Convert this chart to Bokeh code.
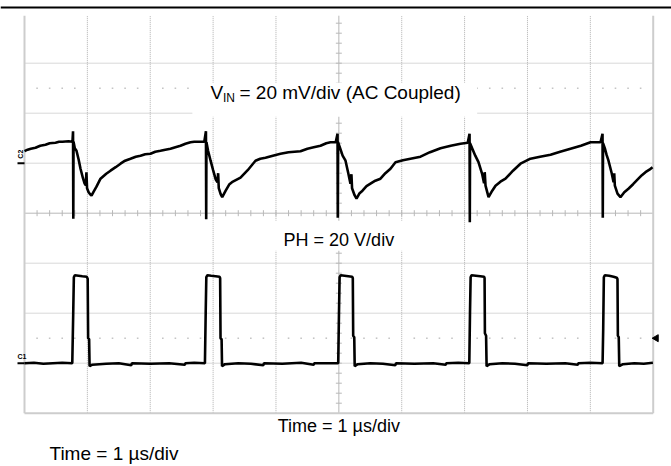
import numpy as np
from bokeh.plotting import figure
from bokeh.models import Range1d
from bokeh.core.properties import value
from bokeh.embed import file_html
from bokeh.resources import INLINE

# ---------------- data (time in us = divisions, amplitude in screen divisions) ----
vin_t = [0.000, 0.05, 0.10, 0.175, 0.25, 0.334, 0.40, 0.493, 0.55, 0.604, 0.70, 0.763,
         0.772, 0.776, 0.780,
         0.80, 0.827, 0.86, 0.891, 0.93, 0.954, 0.975, 0.985, 0.995, 1.02, 1.05, 1.066,
         1.10, 1.145, 1.209, 1.30, 1.368, 1.45, 1.527, 1.60, 1.686, 1.77, 1.845, 1.92,
         2.004, 2.08, 2.163, 2.24, 2.322, 2.40, 2.481, 2.56, 2.640, 2.70, 2.768, 2.86,
         2.886, 2.890, 2.894,
         2.92, 2.96, 3.00, 3.04, 3.07, 3.08, 3.09, 3.12, 3.145, 3.20, 3.26, 3.30, 3.436,
         3.55, 3.674, 3.75, 3.833, 3.95, 4.072, 4.20, 4.39, 4.50, 4.60, 4.708, 4.80,
         4.867, 4.95,
         4.979, 4.983, 4.987,
         5.02, 5.06, 5.106, 5.15, 5.185, 5.20, 5.21, 5.25, 5.281, 5.33, 5.376, 5.44,
         5.503, 5.58, 5.662, 5.74, 5.821, 5.901, 6.02, 6.139, 6.299, 6.45, 6.617, 6.78,
         6.935, 7.05,
         7.079, 7.083, 7.087,
         7.12, 7.17, 7.221, 7.28, 7.31, 7.32, 7.333, 7.381, 7.44, 7.492, 7.57, 7.651,
         7.77, 7.889, 8.048, 8.20, 8.367, 8.52, 8.685, 8.85, 9.003, 9.162,
         9.194, 9.198, 9.202,
         9.23, 9.26, 9.289, 9.34, 9.37, 9.38, 9.39, 9.432, 9.479, 9.54, 9.606, 9.68,
         9.765, 9.82, 9.877, 9.94, 9.989]
vin_div = [1.24, 1.27, 1.29, 1.31, 1.35, 1.37, 1.40, 1.41, 1.43, 1.43, 1.44, 1.43,
           1.64, -0.11, 1.43,
           1.30, 1.25, 1.08, 0.89, 0.70, 0.60, 0.56, 0.82, 0.50, 0.42, 0.37, 0.35,
           0.43, 0.53, 0.69, 0.79, 0.85, 0.92, 0.99, 1.05, 1.09, 1.13, 1.15, 1.18,
           1.19, 1.23, 1.25, 1.27, 1.29, 1.32, 1.35, 1.39, 1.42, 1.43, 1.43, 1.43,
           1.64, -0.12, 1.42,
           1.25, 1.05, 0.86, 0.68, 0.62, 0.80, 0.50, 0.38, 0.32, 0.45, 0.58, 0.62, 0.71,
           0.86, 1.05, 1.09, 1.11, 1.15, 1.19, 1.22, 1.24, 1.29, 1.32, 1.35, 1.40,
           1.42, 1.42,
           1.59, -0.09, 1.42,
           1.30, 1.15, 1.05, 0.80, 0.59, 0.78, 0.50, 0.36, 0.29, 0.40, 0.45, 0.54,
           0.59, 0.65, 0.69, 0.80, 0.89, 1.02, 1.06, 1.09, 1.13, 1.22, 1.30, 1.35,
           1.39, 1.41,
           1.59, -0.18, 1.40,
           1.30, 1.15, 1.02, 0.78, 0.60, 0.82, 0.55, 0.32, 0.45, 0.55, 0.63, 0.69,
           0.85, 0.99, 1.09, 1.13, 1.17, 1.23, 1.29, 1.35, 1.42, 1.42,
           1.59, -0.09, 1.40,
           1.30, 1.16, 1.05, 0.80, 0.62, 0.80, 0.55, 0.39, 0.32, 0.42, 0.49, 0.58,
           0.69, 0.76, 0.82, 0.87, 0.92]

ph_t = [0.0, 0.15, 0.30, 0.45, 0.60, 0.76,
        0.775, 0.785, 0.80, 0.86, 0.92, 0.99, 1.005, 1.012, 1.028, 1.035,
        1.08, 1.30, 1.50, 1.70, 1.71, 2.00, 2.30, 2.55, 2.56, 2.70, 2.87,
        2.882, 2.892, 2.91, 2.97, 3.04, 3.10, 3.112, 3.118, 3.135, 3.142,
        3.19, 3.40, 3.60, 3.80, 3.81, 4.10, 4.40, 4.60, 4.61, 4.80, 4.99,
        5.002, 5.012, 5.03, 5.09, 5.15, 5.21, 5.222, 5.228, 5.245, 5.252,
        5.30, 5.50, 5.70, 5.90, 5.91, 6.20, 6.50, 6.70, 6.71, 6.90, 7.075,
        7.086, 7.096, 7.11, 7.18, 7.25, 7.31, 7.318, 7.323, 7.342, 7.35,
        7.40, 7.60, 7.80, 8.00, 8.01, 8.30, 8.60, 8.80, 8.81, 9.00, 9.195,
        9.205, 9.215, 9.23, 9.30, 9.37, 9.42, 9.432, 9.438, 9.452, 9.46,
        9.52, 9.70, 9.85, 9.995]
ph_div = [-3.0, -2.99, -3.01, -3.0, -2.99, -3.0,
          -2.0, -1.28, -1.24, -1.25, -1.26, -1.27, -1.31, -2.50, -2.52, -3.06,
          -3.03, -3.01, -3.0, -3.04, -3.0, -3.01, -3.0, -3.03, -3.0, -2.99, -3.0,
          -2.0, -1.28, -1.24, -1.25, -1.26, -1.27, -1.30, -2.50, -2.52, -3.06,
          -3.02, -3.0, -3.01, -3.04, -3.0, -3.01, -2.99, -3.03, -3.0, -3.0, -3.0,
          -2.0, -1.28, -1.24, -1.25, -1.26, -1.27, -1.30, -2.45, -2.48, -3.06,
          -3.02, -3.0, -3.01, -3.04, -3.0, -3.01, -3.0, -3.03, -3.0, -2.99, -3.0,
          -2.0, -1.28, -1.24, -1.25, -1.26, -1.27, -1.30, -2.40, -2.45, -3.06,
          -3.02, -3.0, -3.01, -3.04, -3.0, -3.01, -3.0, -3.03, -3.0, -2.99, -3.0,
          -2.3, -1.28, -1.24, -1.25, -1.27, -1.29, -1.32, -2.45, -2.48, -3.06,
          -3.02, -3.0, -3.01, -2.99]

vin_label_main = "V"
vin_label_sub = "IN"
vin_label_rest = "= 20 mV/div (AC Coupled)"
ph_label = "PH = 20 V/div"
time_label = "Time = 1 \u00b5s/div"
ch_labels = ["C2", "C1"]
ch_levels = [1.0, -3.0]

# ---------------- layout ----------------
W, H = 671, 466
X0, XS = 24.0, 62.87     # px of t=0, px per division
Y0, YS = 212.7, 50.0     # px (from top) of y=0, px per division
x_start, x_end = -X0 / XS, (W - X0) / XS
y_end, y_start = Y0 / YS, -(H - Y0) / YS

p = figure(width=W, height=H, x_range=Range1d(x_start, x_end), y_range=Range1d(y_start, y_end),
           output_backend="svg", toolbar_location=None, min_border=0,
           x_axis_location=None, y_axis_location=None)
p.xgrid.visible = False
p.ygrid.visible = False
p.outline_line_color = None
p.background_fill_color = "white"
p.border_fill_color = "white"

FONT = value("Liberation Sans")
GRID = "#b0b0b0"
top_grid = 3.95

# top black rule
p.segment(x0=[x_start], y0=[y_end - 7 / YS], x1=[x_end], y1=[y_end - 7 / YS],
          line_color="black", line_width=2)

# graticule
vx = [i for i in range(1, 10) if i != 5]
p.segment(x0=vx, y0=[-4] * len(vx), x1=vx, y1=[top_grid] * len(vx),
          line_color=GRID, line_width=1, line_dash="1 1")
hy = [j for j in range(-3, 4) if j != 0]
p.segment(x0=[0] * len(hy), y0=hy, x1=[10] * len(hy), y1=hy,
          line_color=GRID, line_width=1, line_dash="1 1")
# sparse dotted lines
dots_x = [k / 5 for k in range(1, 50) if k % 5 != 0]
for yy in (2.5, -2.5):
    p.scatter(x=dots_x, y=[yy] * len(dots_x), marker="square", size=1.6,
              fill_color="#c4c4c4", line_color=None)
# center lines with ticks
p.segment(x0=[5], y0=[-4], x1=[5], y1=[top_grid], line_color="#b8b8b8", line_width=1)
p.segment(x0=[0], y0=[0], x1=[10], y1=[0], line_color="#b8b8b8", line_width=1)
ty = [k / 5 for k in range(-19, 20)]
p.segment(x0=[5 - 3 / XS] * len(ty), y0=ty, x1=[5 + 3 / XS] * len(ty), y1=ty,
          line_color="#b8b8b8", line_width=1)
tx = [k / 5 for k in range(1, 50)]
p.segment(x0=tx, y0=[-3 / YS] * len(tx), x1=tx, y1=[3 / YS] * len(tx),
          line_color="#b8b8b8", line_width=1)
# frame
p.segment(x0=[0, 10, 0], y0=[-4, -4, -4], x1=[0, 10, 10], y1=[top_grid, top_grid, -4],
          line_color="#cdcdcd", line_width=2)

# white label boxes
p.quad(left=[2.67, 3.88], right=[7.2, 6.12], top=[2.61, -0.15], bottom=[1.93, -0.75],
       fill_color="white", line_color=None)

# labels
vin_y = 2.41
vx0 = (210 - X0) / XS
p.text(x=[vx0], y=[vin_y], text=[vin_label_main], text_font=FONT, text_font_size="19px",
       text_align="left", text_baseline="middle", text_color="black")
p.text(x=[vx0 + 12.5 / XS], y=[vin_y - 5 / YS], text=[vin_label_sub], text_font=FONT,
       text_font_size="12px", text_align="left", text_baseline="middle", text_color="black")
p.text(x=[vx0 + 29 / XS], y=[vin_y], text=[vin_label_rest], text_font=FONT,
       text_font_size="19px", text_align="left", text_baseline="middle", text_color="black")
p.text(x=[5.0], y=[-0.53], text=[ph_label], text_font=FONT, text_font_size="18px",
       text_align="center", text_baseline="middle", text_color="black")
p.text(x=[5.0], y=[-4.25], text=[time_label], text_font=FONT, text_font_size="18px",
       text_align="center", text_baseline="middle", text_color="black")
p.text(x=[(49 - X0) / XS], y=[-4.8], text=[time_label], text_font=FONT, text_font_size="19px",
       text_align="left", text_baseline="middle", text_color="black")

# channel markers
p.segment(x0=[-7 / XS] * 2, y0=ch_levels, x1=[0, 0], y1=ch_levels, line_color="black", line_width=2)
p.text(x=[-4 / XS], y=[ch_levels[0] + 9 / YS], text=[ch_labels[0]], text_font=FONT,
       text_font_size="7px", text_font_style="bold", angle=np.pi / 2,
       text_align="center", text_baseline="middle")
p.text(x=[-7 / XS], y=[ch_levels[1] + 7 / YS], text=[ch_labels[1]], text_font=FONT,
       text_font_size="7px", text_font_style="bold", text_align="left", text_baseline="middle")
p.scatter(x=[10 + 3 / XS], y=[-2.5], marker="triangle", angle=np.pi / 2, size=7,
          fill_color="black", line_color="black")

# waveforms
p.line(vin_t, vin_div, line_color="black", line_width=2.6)
p.line(ph_t, ph_div, line_color="black", line_width=2.6)

open("out.html", "w").write(file_html(p, INLINE))
